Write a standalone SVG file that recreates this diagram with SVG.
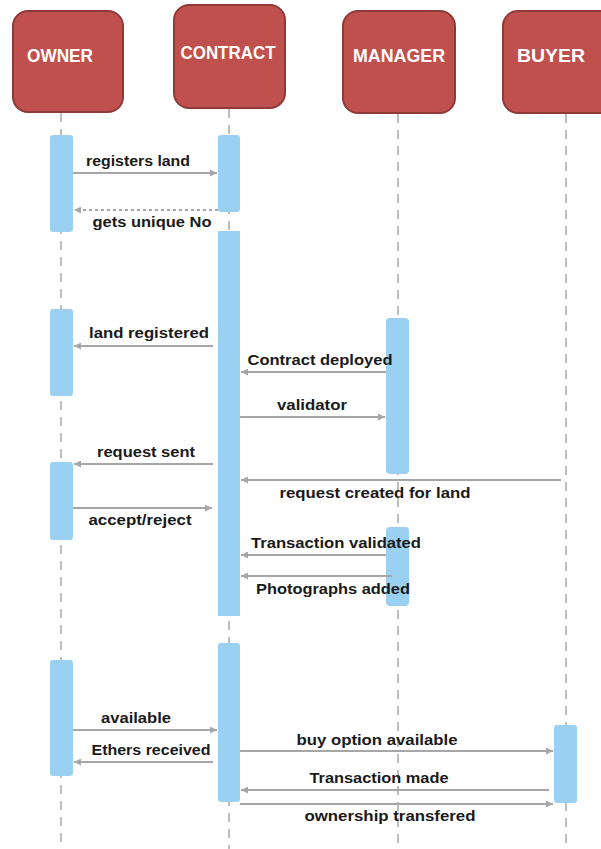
<svg xmlns="http://www.w3.org/2000/svg" width="601" height="849" viewBox="0 0 601 849">
<style>
.hdr{fill:#c0504d;stroke:#8e3a37;stroke-width:2}
.ht{font-family:"Liberation Sans",Arial,sans-serif;font-weight:bold;font-size:19px;fill:#ffffff;text-anchor:middle}
.life{stroke:#a8a8a8;stroke-width:1.5;stroke-dasharray:9,7;fill:none}
.act{fill:#9ad0f2}
.msg{stroke:#a6a6a6;stroke-width:2;fill:none;marker-end:url(#ah)}
.dot{stroke-dasharray:3,3}
.lbl{font-family:"Liberation Sans",Arial,sans-serif;font-weight:bold;font-size:14px;fill:#1a1a1a;text-anchor:middle}
</style>
<defs>
<marker id="ah" viewBox="0 0 10 10" refX="10" refY="5" markerWidth="7" markerHeight="7" markerUnits="userSpaceOnUse" orient="auto">
<path d="M0,0 L10,5 L0,10 z" fill="#a6a6a6"/>
</marker>
</defs>
<rect width="601" height="849" fill="#ffffff"/>
<g id="lifelines">
<line class="life" x1="61" y1="113" x2="61" y2="849"/>
<line class="life" x1="229" y1="109" x2="229" y2="849"/>
<line class="life" x1="398" y1="114" x2="398" y2="849"/>
<line class="life" x1="566" y1="114" x2="566" y2="849"/>
</g>
<g id="owner"><rect class="hdr" x="13" y="11" width="110" height="101" rx="15"/><text class="ht" x="60" y="62" textLength="66" lengthAdjust="spacingAndGlyphs">OWNER</text></g>
<g id="contract"><rect class="hdr" x="174" y="5" width="111" height="103" rx="15"/><text class="ht" x="228" y="59" textLength="95" lengthAdjust="spacingAndGlyphs">CONTRACT</text></g>
<g id="manager"><rect class="hdr" x="343" y="11" width="112" height="102" rx="15"/><text class="ht" x="399" y="62" textLength="92" lengthAdjust="spacingAndGlyphs">MANAGER</text></g>
<g id="buyer"><rect class="hdr" x="503" y="11" width="112" height="102" rx="15"/><text class="ht" x="551" y="62" textLength="68" lengthAdjust="spacingAndGlyphs">BUYER</text></g>
<g id="activations">
<rect class="act" x="50" y="135" width="23" height="97" rx="3"/>
<rect class="act" x="218" y="135" width="22" height="77" rx="3"/>
<rect class="act" x="218" y="231" width="22" height="385"/>
<rect class="act" x="50" y="309" width="23" height="87" rx="3"/>
<rect class="act" x="386" y="318" width="23" height="156" rx="4"/>
<rect class="act" x="50" y="462" width="23" height="78" rx="3"/>
<rect class="act" x="386" y="527" width="23" height="79" rx="4"/>
<rect class="act" x="218" y="643" width="22" height="159" rx="3"/>
<rect class="act" x="50" y="660" width="23" height="116" rx="3"/>
<rect class="act" x="554" y="725" width="23" height="78" rx="3"/>
</g>
<g id="connectors">
<line class="msg" x1="73" y1="173" x2="217" y2="173"/>
<line class="msg dot" x1="218" y1="210" x2="74" y2="210"/>
<line class="msg" x1="213" y1="346" x2="74" y2="346"/>
<line class="msg" x1="386" y1="372" x2="241" y2="372"/>
<line class="msg" x1="240" y1="417" x2="385" y2="417"/>
<line class="msg" x1="213" y1="464" x2="74" y2="464"/>
<line class="msg" x1="561" y1="480" x2="241" y2="480"/>
<line class="msg" x1="73" y1="508" x2="212" y2="508"/>
<line class="msg" x1="386" y1="555" x2="241" y2="555"/>
<line class="msg" x1="392" y1="576" x2="241" y2="576"/>
<line class="msg" x1="73" y1="730" x2="217" y2="730"/>
<line class="msg" x1="213" y1="762" x2="74" y2="762"/>
<line class="msg" x1="240" y1="751" x2="553" y2="751"/>
<line class="msg" x1="549" y1="790" x2="241" y2="790"/>
<line class="msg" x1="240" y1="804" x2="553" y2="804"/>
</g>
<g id="labels">
<text class="lbl" x="138" y="166" textLength="104" lengthAdjust="spacingAndGlyphs">registers land</text>
<text class="lbl" x="152" y="227" textLength="119" lengthAdjust="spacingAndGlyphs">gets unique No</text>
<text class="lbl" x="149" y="338" textLength="120" lengthAdjust="spacingAndGlyphs">land registered</text>
<text class="lbl" x="320" y="365" textLength="145" lengthAdjust="spacingAndGlyphs">Contract deployed</text>
<text class="lbl" x="312" y="410" textLength="70" lengthAdjust="spacingAndGlyphs">validator</text>
<text class="lbl" x="146" y="457" textLength="98" lengthAdjust="spacingAndGlyphs">request sent</text>
<text class="lbl" x="375" y="498" textLength="191" lengthAdjust="spacingAndGlyphs">request created for land</text>
<text class="lbl" x="140" y="525" textLength="103" lengthAdjust="spacingAndGlyphs">accept/reject</text>
<text class="lbl" x="336" y="548" textLength="170" lengthAdjust="spacingAndGlyphs">Transaction validated</text>
<text class="lbl" x="333" y="594" textLength="154" lengthAdjust="spacingAndGlyphs">Photographs added</text>
<text class="lbl" x="136" y="723" textLength="70" lengthAdjust="spacingAndGlyphs">available</text>
<text class="lbl" x="151" y="755" textLength="119" lengthAdjust="spacingAndGlyphs">Ethers received</text>
<text class="lbl" x="377" y="745" textLength="161" lengthAdjust="spacingAndGlyphs">buy option available</text>
<text class="lbl" x="379" y="783" textLength="139" lengthAdjust="spacingAndGlyphs">Transaction made</text>
<text class="lbl" x="390" y="821" textLength="171" lengthAdjust="spacingAndGlyphs">ownership transfered</text>
</g>
</svg>
